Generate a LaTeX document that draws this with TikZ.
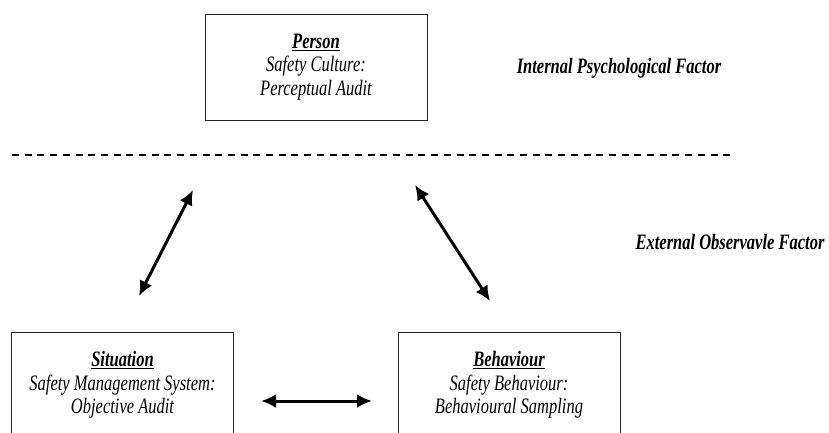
\documentclass[tikz,border=0pt]{standalone}
\usepackage{fontspec}
\setmainfont{Liberation Serif}[FakeStretch=0.75]
\usetikzlibrary{arrows.meta}
\newcommand\boxtitle[1]{\underline{\textbf{#1}}}
\begin{document}
\begin{tikzpicture}[x=1pt,y=-1pt,
  boxnode/.style={draw=black!85,line width=0.8pt,minimum width=222pt,minimum height=106pt,
    align=center,inner sep=0pt,font=\fontsize{22}{23.5}\selectfont\itshape},
  factor/.style={font=\fontsize{22}{24}\selectfont\itshape\bfseries,inner sep=0pt},
  biarrow/.style={line width=3pt,{Latex[length=15pt,width=14pt]}-{Latex[length=15pt,width=14pt]}}]
\useasboundingbox (0,0) rectangle (829,432);
\begin{scope}
\clip (0,0) rectangle (829,432);
\node[boxnode] (person) at (316,67) {\boxtitle{Person}\\Safety Culture:\\Perceptual Audit};
\node[boxnode] (situation) at (122.5,385) {\boxtitle{Situation}\\Safety Management System:\\Objective Audit};
\node[boxnode] (behaviour) at (509,385) {\boxtitle{Behaviour}\\Safety Behaviour:\\Behavioural Sampling};
\end{scope}
\node[factor] (internal) at (619,68) {Internal Psychological Factor};
\node[factor] (external) at (730,242) {External Observavle Factor};
\coordinate (dl) at (12,155);
\coordinate (dr) at (734,155);
\draw[black,line width=1.1pt,dash pattern=on 7pt off 5.7pt] (dl) -- (dr);
\coordinate (a1s) at (139,296);
\coordinate (a1e) at (193,190);
\coordinate (a2s) at (415,185);
\coordinate (a2e) at (490,301);
\coordinate (a3s) at (261,401);
\coordinate (a3e) at (372,401);
\draw[biarrow] (a1s) -- (a1e);
\draw[biarrow] (a2s) -- (a2e);
\draw[biarrow] (a3s) -- (a3e);
\end{tikzpicture}
\end{document}
